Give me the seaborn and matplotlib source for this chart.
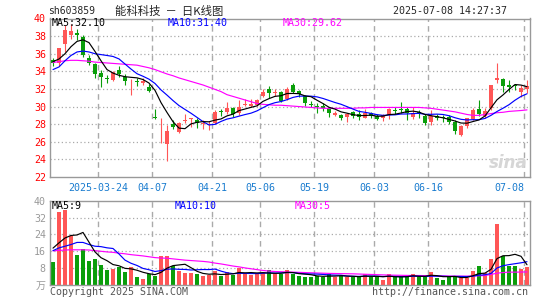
import numpy as np
import matplotlib
matplotlib.use("Agg")
import matplotlib.pyplot as plt
import seaborn as sns

# daily candles, 2025-03-12 .. 2025-07-08 (80 trading days)
open_px = [35.3, 34.9, 37.1, 38.1, 38.3, 37.9, 35.5, 34.8, 33.8, 33.2,
           33.0, 34.1, 33.4, 32.85, 32.9, 32.7, 32.2, 28.85, 25.95, 25.8,
           28.05, 27.15, 28.35, 28.6, 28.45, 28.05, 27.95, 28.1, 29.45, 29.35,
           29.85, 29.3, 30.2, 30.1, 30.2, 31.25, 31.95, 31.55, 31.7, 30.9,
           32.4, 31.75, 31.2, 30.3, 30.05, 30.05, 29.85, 29.0, 29.0, 28.8,
           29.4, 29.2, 28.75, 29.3, 28.9, 28.75, 29.0, 29.65, 29.7, 29.7,
           28.85, 29.4, 28.9, 28.25, 28.9, 28.85, 28.85, 28.25, 26.75, 27.8,
           28.55, 29.7, 28.9, 29.8, 33.0, 33.1, 32.5, 32.4, 31.65, 32.05]
high_px = [35.55, 36.7, 39.3, 39.4, 38.8, 38.1, 35.8, 35.0, 34.1, 33.6,
           34.0, 34.6, 33.7, 33.1, 33.2, 33.2, 32.6, 29.75, 28.7, 27.9,
           28.5, 28.3, 29.1, 28.75, 28.7, 28.5, 28.4, 29.65, 29.7, 30.5,
           29.95, 30.8, 30.9, 30.9, 30.9, 31.95, 32.3, 32.0, 31.8, 32.2,
           32.7, 31.9, 31.35, 30.65, 30.35, 30.35, 29.95, 29.55, 29.2, 29.3,
           29.5, 29.6, 29.75, 29.4, 29.1, 29.2, 29.85, 29.95, 30.5, 29.96,
           29.96, 29.6, 29.1, 29.6, 29.1, 29.0, 29.0, 28.45, 27.9, 28.75,
           29.8, 30.7, 29.8, 32.5, 34.95, 33.25, 33.0, 32.6, 32.4, 33.0]
low_px = [34.6, 34.6, 36.2, 37.7, 37.6, 35.6, 34.7, 33.2, 32.2, 32.7,
          32.9, 33.4, 32.4, 31.3, 32.3, 32.5, 31.6, 28.6, 25.9, 23.8,
          27.4, 27.0, 28.15, 27.7, 27.6, 27.5, 27.3, 28.0, 28.9, 29.2,
          28.8, 29.0, 30.05, 29.95, 30.1, 31.1, 31.0, 31.15, 30.5, 30.8,
          31.55, 31.1, 30.1, 29.9, 29.3, 29.5, 28.8, 28.9, 28.45, 28.3,
          28.65, 28.45, 28.65, 28.65, 28.45, 28.4, 28.55, 29.2, 29.3, 28.45,
          28.64, 28.75, 27.9, 27.9, 28.45, 28.25, 28.0, 26.85, 26.64, 27.6,
          28.45, 28.9, 28.75, 29.6, 32.7, 31.66, 31.66, 31.85, 31.1, 31.5]
close_px = [35.0, 36.6, 38.7, 38.6, 38.1, 35.9, 35.0, 33.7, 33.3, 33.1,
            33.9, 33.75, 32.9, 32.95, 32.8, 32.95, 31.75, 28.75, 26.0, 27.2,
            27.7, 28.1, 28.45, 28.7, 28.1, 28.1, 28.0, 29.4, 29.35, 29.85,
            29.1, 30.0, 30.3, 30.3, 30.7, 31.65, 31.55, 31.6, 30.65, 31.95,
            31.7, 31.4, 30.35, 30.2, 29.95, 29.8, 29.3, 29.3, 28.65, 29.2,
            28.95, 28.8, 29.3, 28.9, 28.55, 29.0, 29.7, 29.5, 29.6, 29.3,
            29.3, 29.15, 28.15, 28.9, 28.75, 28.65, 28.25, 27.25, 27.75, 28.65,
            29.6, 29.15, 29.5, 32.4, 33.2, 32.35, 32.25, 32.3, 32.1, 32.3]
ma5 = [35.1, 35.4, 36.0, 36.8, 37.4, 37.58, 37.26, 36.26, 35.2, 34.2,
       33.8, 33.55, 33.39, 33.32, 33.26, 33.07, 32.67, 31.84, 30.45, 29.33,
       28.28, 27.55, 27.49, 28.03, 28.21, 28.29, 28.27, 28.46, 28.59, 28.94,
       29.14, 29.54, 29.72, 29.91, 30.08, 30.59, 30.9, 31.16, 31.23, 31.48,
       31.49, 31.46, 31.21, 31.12, 30.72, 30.34, 29.92, 29.71, 29.4, 29.25,
       29.08, 28.98, 28.98, 29.03, 28.9, 28.91, 29.09, 29.13, 29.27, 29.42,
       29.48, 29.37, 29.1, 28.96, 28.85, 28.72, 28.54, 28.36, 28.13, 28.11,
       28.3, 28.48, 28.93, 29.86, 30.77, 31.32, 31.94, 32.5, 32.44, 32.26]
ma10 = [34.2, 34.5, 35.2, 35.8, 36.2, 36.3, 36.2, 36.0, 35.9, 35.8,
        35.69, 35.41, 34.83, 34.26, 33.73, 33.44, 33.11, 32.62, 31.89, 31.3,
        30.68, 30.11, 29.67, 29.24, 28.77, 28.29, 27.91, 27.98, 28.31, 28.58,
        28.72, 28.91, 29.09, 29.25, 29.51, 29.87, 30.22, 30.44, 30.57, 30.78,
        31.04, 31.18, 31.19, 31.18, 31.1, 30.92, 30.69, 30.46, 30.26, 29.99,
        29.71, 29.45, 29.35, 29.22, 29.08, 29.0, 29.04, 29.06, 29.15, 29.16,
        29.2, 29.23, 29.12, 29.12, 29.14, 29.1, 28.96, 28.73, 28.55, 28.48,
        28.51, 28.51, 28.65, 29.0, 29.44, 29.81, 30.21, 30.72, 31.15, 31.45]
ma30 = [35.0, 35.1, 35.2, 35.25, 35.25, 35.2, 35.15, 35.05, 35.0, 34.95,
        34.9, 34.85, 34.8, 34.75, 34.7, 34.55, 34.4, 34.2, 33.95, 33.7,
        33.5, 33.25, 33.05, 32.85, 32.65, 32.45, 32.2, 31.95, 31.7, 31.35,
        31.15, 30.95, 30.75, 30.55, 30.35, 30.25, 30.2, 30.15, 30.15, 30.1,
        30.05, 30.0, 29.95, 29.9, 29.85, 29.8, 29.8, 29.8, 29.8, 29.8,
        29.8, 29.85, 29.85, 29.9, 29.9, 29.9, 29.9, 29.9, 29.9, 29.9,
        29.9, 29.9, 29.85, 29.8, 29.7, 29.6, 29.5, 29.4, 29.25, 29.1,
        29.0, 29.0, 29.1, 29.2, 29.3, 29.35, 29.45, 29.5, 29.55, 29.62]

# volume, 万股
volume = [11.0, 34.6, 35.5, 23.3, 14.3, 17.0, 11.5, 12.4, 9.6, 7.2,
          7.8, 8.6, 6.3, 8.4, 3.9, 3.0, 5.2, 4.1, 13.8, 13.8,
          9.1, 6.8, 5.7, 5.7, 5.2, 4.1, 4.9, 6.5, 4.1, 6.0,
          4.9, 8.2, 5.6, 4.8, 5.1, 5.6, 7.1, 5.1, 5.0, 7.3,
          5.0, 4.5, 4.0, 3.6, 4.5, 4.0, 5.0, 4.0, 4.5, 3.6,
          3.6, 4.0, 5.4, 4.0, 3.6, 2.6, 5.4, 4.0, 3.6, 4.0,
          5.0, 4.0, 4.0, 6.1, 3.1, 2.6, 4.0, 4.5, 3.4, 3.4,
          6.8, 8.9, 5.7, 12.4, 28.8, 13.6, 9.2, 8.8, 7.7, 8.7]
vol_ma5 = [17.5, 20.0, 22.3, 23.5, 23.74, 24.94, 20.32, 15.7, 12.96, 11.54,
           9.7, 9.12, 7.9, 7.66, 7.0, 6.04, 5.36, 4.92, 6.0, 7.98,
           9.2, 9.52, 9.84, 8.22, 6.5, 5.5, 5.12, 5.28, 4.96, 5.12,
           5.28, 5.94, 5.76, 5.9, 5.72, 5.86, 5.64, 5.54, 5.58, 6.02,
           5.9, 5.38, 5.16, 4.88, 4.32, 4.12, 4.22, 4.22, 4.4, 4.22,
           4.14, 3.94, 4.22, 4.12, 4.12, 3.92, 4.2, 3.92, 3.84, 3.92,
           4.4, 4.12, 4.12, 4.62, 4.44, 3.96, 3.96, 4.06, 3.52, 3.58,
           4.42, 5.4, 5.64, 7.44, 12.52, 13.88, 13.94, 14.56, 13.62, 9.6]
vol_ma10 = [16.3, 17.6, 18.4, 19.2, 20.2, 20.2, 19.2, 18.4, 18.2, 17.64,
            17.32, 14.72, 11.8, 10.31, 9.27, 7.87, 7.24, 6.41, 6.83, 7.49,
            7.62, 7.44, 7.38, 7.11, 7.24, 7.35, 7.32, 7.56, 6.59, 5.81,
            5.39, 5.53, 5.52, 5.43, 5.42, 5.57, 5.79, 5.65, 5.74, 5.87,
            5.88, 5.51, 5.35, 5.23, 5.17, 5.01, 4.8, 4.69, 4.64, 4.27,
            4.13, 4.08, 4.22, 4.26, 4.17, 4.03, 4.07, 4.07, 3.98, 4.02,
            4.16, 4.16, 4.02, 4.23, 4.18, 4.18, 4.04, 4.09, 4.07, 4.01,
            4.19, 4.68, 4.85, 5.48, 8.05, 9.15, 9.67, 10.1, 10.53, 11.06]
vol_ma30 = [16.2, 16.4, 16.6, 16.7, 16.7, 16.7, 16.6, 16.3, 16.0, 15.7,
            15.5, 15.1, 14.8, 14.4, 14.1, 13.8, 13.4, 13.0, 12.8, 12.7,
            12.4, 12.1, 11.8, 11.6, 11.4, 11.2, 10.9, 10.4, 10.0, 9.5,
            9.0, 8.6, 8.1, 7.7, 7.3, 6.9, 6.6, 6.4, 6.3, 6.2,
            6.1, 6.0, 5.9, 5.8, 5.7, 5.6, 5.5, 5.45, 5.4, 5.35,
            5.3, 5.2, 5.1, 5.0, 4.9, 4.8, 4.7, 4.65, 4.6, 4.55,
            4.5, 4.5, 4.45, 4.4, 4.35, 4.3, 4.25, 4.2, 4.2, 4.2,
            4.3, 4.4, 4.5, 5.0, 5.6, 5.9, 6.1, 6.1, 6.15, 6.2]

date_ticks = [8, 17, 27, 35, 44, 54, 63, 79]
date_labels = ["2025-03-24", "04-07", "04-21", "05-06", "05-19", "06-03", "06-16", "07-08"]
price_ticks = [22, 24, 26, 28, 30, 32, 34, 36, 38, 40]
vol_ticks = [8, 16, 24, 32, 40]

RED = "#ff5656"
GREEN = "#0a9e0a"
GRID = "#aaaaaa"
MONO = "DejaVu Sans Mono"
CJK = "Noto Sans CJK SC"
FS = 7.2

sns.set_style("white")
plt.rcParams["font.family"] = [MONO, CJK]

idx = np.arange(len(close_px))
o = np.array(open_px)
c = np.array(close_px)
up = c >= o
colors = np.where(up, RED, GREEN)

W, H = 545, 300
fig = plt.figure(figsize=(W / 100, H / 100), dpi=100)
ax = fig.add_axes([50 / W, 1 - 177 / H, 480 / W, 158.5 / H])
axv = fig.add_axes([50 / W, 1 - 285 / H, 480 / W, 84.3 / H])

# ---- price panel
for y in price_ticks[1:-1]:
    ax.axhline(y, color=GRID, lw=0.9, ls=(0, (1, 2)), zorder=0)
for t in date_ticks:
    ax.axvline(t - 0.5, color=GRID, lw=1, ls=(0, (4, 3)), zorder=0)
    axv.axvline(t - 0.5, color=GRID, lw=1, ls=(0, (4, 3)), zorder=0)

ax.vlines(idx, low_px, high_px, colors=colors, lw=0.8, zorder=2)
body = np.maximum(np.abs(c - o), 0.07)
ax.bar(idx, body, bottom=np.minimum(o, c), width=0.8, color=colors, lw=0, zorder=3)

for vals, col in [(ma30, "#ff00ff"), (ma10, "#0000ff"), (ma5, "#000000")]:
    sns.lineplot(x=idx, y=vals, ax=ax, color=col, lw=0.85, zorder=4)

ax.set_xlim(-0.5, 79.5)
ax.set_ylim(22, 40)
ax.set_yticks(price_ticks)
ax.set_yticklabels([str(v) for v in price_ticks])
ax.set_xticks([t - 0.5 for t in date_ticks])
ax.set_xticklabels(date_labels)
ax.get_xticklabels()[-1].set_horizontalalignment("right")
ax.get_xticklabels()[-1].set_x(79.5)
ax.tick_params(axis="y", length=0, pad=3, labelsize=FS, labelcolor="#ff0000")
ax.tick_params(axis="x", length=0, pad=4, labelsize=FS, labelcolor="#1a7ccf")

ax.text(0.004, 0.97, "MA5:32.10", transform=ax.transAxes, va="center", fontsize=FS, color="black")
ax.text(0.246, 0.97, "MA10:31.40", transform=ax.transAxes, va="center", fontsize=FS, color="#0000ff")
ax.text(0.485, 0.97, "MA30:29.62", transform=ax.transAxes, va="center", fontsize=FS, color="#ff00ff")
ax.text(0.995, 0.09, "sina", transform=ax.transAxes, ha="right", va="center", fontsize=12,
        fontstyle="italic", fontweight="bold", family="DejaVu Sans", color="#d6d6d6", zorder=1)

# ---- volume panel
for y in vol_ticks[:-1]:
    axv.axhline(y, color=GRID, lw=0.9, ls=(0, (1, 2)), zorder=0)
axv.bar(idx, volume, width=0.8, color=colors, lw=0, zorder=2)
for vals, col in [(vol_ma30, "#ff00ff"), (vol_ma10, "#0000ff"), (vol_ma5, "#000000")]:
    sns.lineplot(x=idx, y=vals, ax=axv, color=col, lw=0.85, zorder=4)

axv.set_xlim(-0.5, 79.5)
axv.set_ylim(0, 40)
axv.set_yticks([0] + vol_ticks)
axv.set_yticklabels(["万"] + [str(v) for v in vol_ticks])
axv.set_xticks([])
axv.tick_params(axis="y", length=0, pad=3, labelsize=FS, labelcolor="#999999")

axv.text(0.004, 0.937, "MA5:9", transform=axv.transAxes, va="center", fontsize=FS, color="black")
axv.text(0.26, 0.937, "MA10:10", transform=axv.transAxes, va="center", fontsize=FS, color="#0000ff")
axv.text(0.51, 0.937, "MA30:5", transform=axv.transAxes, va="center", fontsize=FS, color="#ff00ff")

for a in (ax, axv):
    a.set_xlabel("")
    a.set_ylabel("")
    for s in a.spines.values():
        s.set_color("#999999")
        s.set_linewidth(1.0)

# ---- header / footer
fig.text(48 / W, 1 - 11 / H, "sh603859", va="center", fontsize=7.0)
fig.text(115 / W, 1 - 11 / H, "能科科技  －  日K线图", va="center", fontsize=8.2, family=[CJK, MONO])
fig.text(507 / W, 1 - 11 / H, "2025-07-08 14:27:37", ha="right", va="center", fontsize=FS)
fig.text(50 / W, 1 - 292 / H, "Copyright 2025 SINA.COM", va="center", fontsize=FS, color="#555555")
fig.text(528 / W, 1 - 292 / H, "http://finance.sina.com.cn", ha="right", va="center", fontsize=FS, color="#555555")

fig.savefig("out.png", dpi=100, facecolor="white")
